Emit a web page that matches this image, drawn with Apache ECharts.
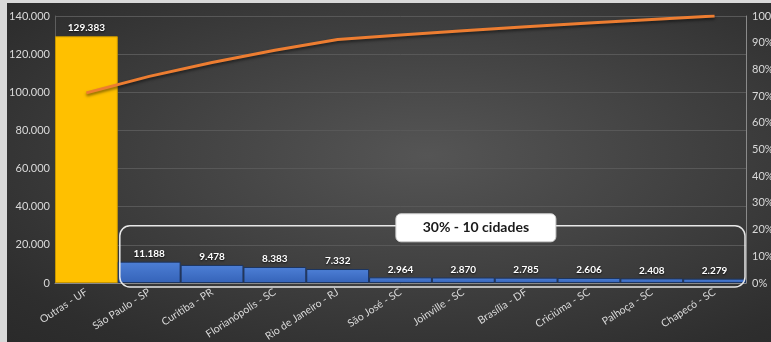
<!DOCTYPE html>
<html><head><meta charset="utf-8">
<script src="https://cdn.jsdelivr.net/npm/echarts@6/dist/echarts.min.js"></script>
<style>
html,body{margin:0;padding:0;background:#d9d9d9;}
#wrap{position:absolute;left:7px;top:3px;width:764px;height:339px;
background:radial-gradient(ellipse at 55% 45%, #555555 0%, #434343 40%, #2e2e2e 85%, #2a2a2a 100%);}
#c{position:absolute;left:0;top:0;width:771px;height:342px;}
</style></head>
<body>
<div id="wrap"></div>
<div id="c"></div>
<script>
const categories = ["Outras - UF","São Paulo - SP","Curitiba - PR","Florianópolis - SC","Rio de Janeiro - RJ","São José - SC","Joinville - SC","Brasília - DF","Criciúma - SC","Palhoça - SC","Chapecó - SC"];
const values = [129383,11188,9478,8383,7332,2964,2870,2785,2606,2408,2279];
const cumulativePct = [71.2,77.4,82.6,87.2,91.2,92.9,94.5,96.0,97.4,98.7,100];
const leftTicks = [0,20000,40000,60000,80000,100000,120000,140000];
const rightTicks = [0,10,20,30,40,50,60,70,80,90,100];
const annotationText = "30% - 10 cidades";

const fmt = v => String(v).replace(/\B(?=(\d{3})+(?!\d))/g, ".");
const FONT = "Lato, 'Open Sans', sans-serif";

const chart = echarts.init(document.getElementById('c'), null, {renderer:'canvas'});
const barData = values.map((v,i) => ({
  value: v,
  itemStyle: i === 0 ? {color:'#FFC000', borderColor:'#c79600', borderWidth:1}
   : {color: new echarts.graphic.LinearGradient(0,0,0,1,[{offset:0,color:'#4d7fd6'},{offset:1,color:'#3563b8'}]), borderColor:'#1d3560', borderWidth:1}
}));
chart.setOption({
  backgroundColor:'transparent',
  animation:false,
  grid:{left:55,right:25,top:16,bottom:59,containLabel:false,outerBoundsMode:'none'},
  xAxis:{type:'category',data:categories,
    axisLine:{show:true,lineStyle:{color:'#8a8a8a',width:1}},
    axisTick:{show:false},
    axisLabel:{rotate:33,color:'#d9d9d9',fontSize:10.5,fontFamily:FONT,margin:8,interval:0}},
  yAxis:[
    {type:'value',min:leftTicks[0],max:leftTicks[leftTicks.length-1],interval:20000,
     axisLine:{show:true,lineStyle:{color:'#5e5e5e'}},
     splitLine:{show:true,lineStyle:{color:'#585858',width:1}},
     axisLabel:{color:'#d9d9d9',fontSize:11,fontFamily:FONT,margin:5,formatter:v=>fmt(v)}},
    {type:'value',min:0,max:100,interval:10,position:'right',
     axisLine:{show:true,lineStyle:{color:'#8a8a8a'}},
     splitLine:{show:false},
     axisLabel:{color:'#d9d9d9',fontSize:11,fontFamily:FONT,margin:6,formatter:v=>v+'%'}}
  ],
  series:[
    {type:'bar',data:barData,barCategoryGap:'0%',barGap:'0%',
     label:{show:true,position:'top',distance:3,color:'#ffffff',fontWeight:'bold',fontSize:10,fontFamily:FONT,
       textShadowColor:'rgba(0,0,0,0.8)',textShadowBlur:2,textShadowOffsetY:1,formatter:p=>fmt(p.value)}},
    {type:'line',yAxisIndex:1,data:cumulativePct,symbol:'none',
     lineStyle:{color:'#ED7D31',width:3,shadowColor:'rgba(0,0,0,0.5)',shadowBlur:3,shadowOffsetY:2},
     z:5}
  ]
});

function drawAnnotation(){
  const left = chart.convertToPixel({xAxisIndex:0}, categories[1]);
  const right = chart.convertToPixel({xAxisIndex:0}, categories[categories.length-1]);
  const step = (right-left)/(categories.length-2);
  const half = step/2;
  const x0 = left - half + 2;
  const x1 = right + half - 1;
  const yTop = chart.convertToPixel({yAxisIndex:0}, 30000);
  const yBot = chart.convertToPixel({yAxisIndex:0}, 0) + 4;
  const labelCx = chart.convertToPixel({xAxisIndex:0}, categories[6]) + step*0.2;
  chart.setOption({graphic:[
    {type:'rect',shape:{x:x0,y:yTop,width:x1-x0,height:yBot-yTop,r:10},
     style:{fill:'transparent',stroke:'#e8e8e8',lineWidth:1.5},z:100},
    {type:'rect',shape:{x:labelCx-80,y:yTop-12,width:160,height:28,r:5},
     style:{fill:'#ffffff',stroke:'#cfcfcf',lineWidth:1},z:101},
    {type:'text',x:labelCx,y:yTop+2,
     style:{text:annotationText,fill:'#1a1a1a',font:"bold 14px "+FONT,align:'center',verticalAlign:'middle'},z:102}
  ]});
}
drawAnnotation();
</script>
</body></html>
